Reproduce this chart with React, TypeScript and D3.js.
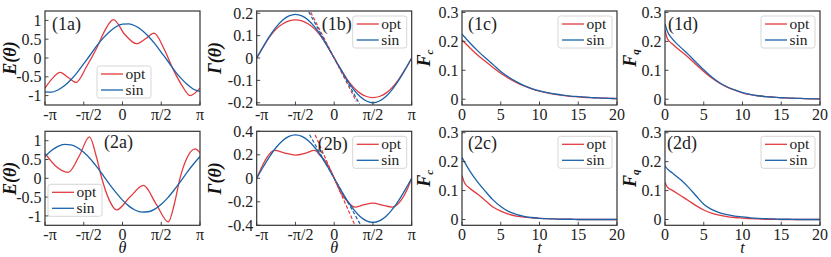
import React from 'react';
import * as d3 from 'd3';

const PI = Math.PI;
const RED = '#e23a3f';
const BLUE = '#1a63aa';
const INK = '#333333';
const FONT = "'Liberation Serif', 'DejaVu Serif', serif";

// sample positions along the axes
const thetaGrid = d3.range(25).map(i => -PI + (i * PI) / 12); // every 15 degrees
const tGrid = [0, 0.3, 1, 2, 3, 4, 5, 6, 7, 8, 9, 10, 11, 12, 13, 14, 15, 16, 17, 18, 19, 20];

// ticks
const thetaTicks = [-PI, -PI / 2, 0, PI / 2, PI];
const thetaTickLabels = ['-π', '-π/2', '0', 'π/2', 'π'];
const tTicks = [0, 5, 10, 15, 20];
const fTicks = [0, 0.1, 0.2, 0.3];
const eTicks = [-1, -0.5, 0, 0.5, 1];
const g1Ticks = [-0.2, -0.1, 0, 0.1, 0.2];
const g2Ticks = [-0.4, -0.2, 0, 0.2, 0.4];
const legendNames = ['opt', 'sin'];

// ---- row 1 ----
const e1Sin = [-0.9, -0.91, -0.85, -0.74, -0.58, -0.38, -0.15, 0.08, 0.32, 0.53, 0.7, 0.83, 0.9, 0.91, 0.85, 0.74, 0.58, 0.38, 0.15, -0.08, -0.32, -0.53, -0.7, -0.83, -0.89];
const e1OptTheta = [-PI, -2.85, -2.53, -2.2, -1.885, -1.45, -1.05, -0.7, -0.37, 0.1, 0.57, 0.95, 1.28, 1.7, 2.06, 2.4, 2.74, PI];
const e1Opt = [-0.8, -0.55, -0.38, -0.52, -0.65, -0.22, 0.26, 0.75, 1.02, 0.62, 0.38, 0.52, 0.66, 0.22, -0.31, -0.72, -1.0, -0.8];

const g1Sin = [0, 0.05, 0.098, 0.138, 0.169, 0.188, 0.195, 0.188, 0.169, 0.138, 0.098, 0.05, 0, -0.05, -0.099, -0.14, -0.172, -0.192, -0.2, -0.192, -0.172, -0.14, -0.099, -0.051, 0];
const g1Opt = [0, 0.05, 0.094, 0.129, 0.152, 0.166, 0.17, 0.166, 0.152, 0.129, 0.094, 0.05, 0, -0.05, -0.095, -0.131, -0.157, -0.172, -0.177, -0.172, -0.157, -0.131, -0.095, -0.05, 0];
const g1TangentTheta = [[-0.95, 0.9], [-1.03, 1.03]]; // opt, sin
const g1TangentValue = [[0.204, -0.194], [0.206, -0.206]];

const fc1Opt = [0.205, 0.197, 0.178, 0.153, 0.131, 0.11, 0.09, 0.073, 0.058, 0.046, 0.036, 0.028, 0.022, 0.017, 0.013, 0.01, 0.008, 0.006, 0.005, 0.004, 0.003, 0.002];
const fc1Sin = [0.225, 0.216, 0.195, 0.168, 0.143, 0.12, 0.096, 0.077, 0.061, 0.047, 0.037, 0.029, 0.023, 0.018, 0.014, 0.011, 0.009, 0.007, 0.005, 0.004, 0.003, 0.002];
const fq1Opt = [0.24, 0.21, 0.19, 0.167, 0.145, 0.12, 0.096, 0.074, 0.056, 0.042, 0.031, 0.022, 0.016, 0.012, 0.009, 0.007, 0.005, 0.004, 0.003, 0.002, 0.0015, 0.001];
const fq1Sin = [0.26, 0.235, 0.207, 0.18, 0.155, 0.128, 0.102, 0.078, 0.058, 0.043, 0.032, 0.023, 0.017, 0.012, 0.009, 0.007, 0.005, 0.004, 0.003, 0.002, 0.0015, 0.001];

// ---- row 2 ----
const e2Sin = [0.58, 0.74, 0.85, 0.9, 0.89, 0.82, 0.69, 0.52, 0.31, 0.08, -0.16, -0.38, -0.58, -0.74, -0.85, -0.9, -0.89, -0.82, -0.69, -0.52, -0.31, -0.08, 0.16, 0.38, 0.58];
const e2OptTheta = [-PI, -2.7, -2.2, -1.75, -1.34, -1.05, -0.84, -0.55, -0.24, 0.3, 0.85, 1.36, 1.86, 2.1, 2.33, 2.6, 2.94, PI];
const e2Opt = [0.66, 0.32, 0.16, 0.6, 1.1, 0.55, 0.0, -0.56, -0.84, -0.5, -0.19, -0.68, -1.16, -0.69, 0.0, 0.52, 0.78, 0.68];

const g2Sin = [0, 0.096, 0.185, 0.262, 0.32, 0.357, 0.37, 0.357, 0.32, 0.262, 0.185, 0.096, 0, -0.097, -0.188, -0.265, -0.325, -0.362, -0.375, -0.362, -0.325, -0.265, -0.188, -0.097, 0];
const g2OptTheta = [-PI, -2.95, -2.75, -2.42, -2.0, -1.57, -1.15, -0.8, -0.55, -0.3, 0, 0.3, 0.55, 0.83, 1.2, 1.57, 1.95, 2.35, 2.7, 2.95, PI];
const g2Opt = [0, 0.09, 0.17, 0.237, 0.215, 0.198, 0.215, 0.237, 0.19, 0.13, 0, -0.135, -0.2, -0.245, -0.225, -0.212, -0.228, -0.245, -0.19, -0.1, 0];
const g2TangentTheta = [[-0.77, 0.84], [-1.0, 1.08]];
const g2TangentValue = [[0.368, -0.4], [0.371, -0.4]];

const fc2Opt = [0.152, 0.128, 0.108, 0.088, 0.066, 0.043, 0.029, 0.019, 0.012, 0.008, 0.006, 0.004, 0.003, 0.002, 0.001, 0.001, 0, 0, 0, 0, 0, 0];
const fc2Sin = [0.215, 0.2, 0.168, 0.13, 0.098, 0.068, 0.045, 0.028, 0.018, 0.011, 0.007, 0.004, 0.003, 0.002, 0.001, 0.001, 0, 0, 0, 0, 0, 0];
const fq2Opt = [0.128, 0.112, 0.1, 0.083, 0.066, 0.048, 0.033, 0.022, 0.015, 0.01, 0.007, 0.005, 0.003, 0.002, 0.001, 0.001, 0, 0, 0, 0, 0, 0];
const fq2Sin = [0.185, 0.175, 0.16, 0.138, 0.112, 0.082, 0.053, 0.035, 0.024, 0.017, 0.012, 0.009, 0.006, 0.004, 0.003, 0.002, 0.001, 0.001, 0, 0, 0, 0];

// layout
const W = 155;
const H = 94;
const colX = [45, 256.7, 462, 665];
const rowY = [11, 131.3];
const yLabelDx = [-35, -41.5, -38, -35];

type Series = { x: number[]; y: number[]; color: string };
type PanelSpec = {
  id: string;
  col: number;
  row: number;
  xDomain: [number, number];
  yDomain: [number, number];
  xTicks: number[];
  xTickLabels: string[];
  yTicks: number[];
  series: Series[];
  tangents: Series[];
  tag: string;
  tagPos: [number, number];
  legendPos: [number, number];
  yLabel: string;
  xLabel: string;
};

const colors = [RED, BLUE];

const thetaPanel = (
  id: string, col: number, row: number, yDomain: [number, number], yTicks: number[],
  optX: number[], opt: number[], sin: number[], tag: string, tagPos: [number, number],
  legendPos: [number, number], yLabel: string, tanX?: number[][], tanY?: number[][]
): PanelSpec => ({
  id, col, row,
  xDomain: [-PI, PI], yDomain,
  xTicks: thetaTicks, xTickLabels: thetaTickLabels, yTicks,
  series: [
    { x: optX, y: opt, color: RED },
    { x: thetaGrid, y: sin, color: BLUE },
  ],
  tangents: tanX && tanY ? tanX.map((tx, i) => ({ x: tx, y: tanY[i], color: colors[i] })) : [],
  tag, tagPos, legendPos, yLabel,
  xLabel: row === 1 ? 'θ' : '',
});

const timePanel = (
  id: string, col: number, row: number, opt: number[], sin: number[], tag: string,
  tagPos: [number, number], yLabel: string
): PanelSpec => ({
  id, col, row,
  xDomain: [0, 20], yDomain: [-0.02, 0.305],
  xTicks: tTicks, xTickLabels: tTicks.map(String), yTicks: fTicks,
  series: [
    { x: tGrid, y: opt, color: RED },
    { x: tGrid, y: sin, color: BLUE },
  ],
  tangents: [],
  tag, tagPos, legendPos: [96, 5], yLabel,
  xLabel: row === 1 ? 't' : '',
});

const panels: PanelSpec[] = [
  thetaPanel('1a', 0, 0, [-1.25, 1.25], eTicks, e1OptTheta, e1Opt, e1Sin, '(1a)', [7, 19], [52, 55], 'E'),
  thetaPanel('1b', 1, 0, [-0.21, 0.21], g1Ticks, thetaGrid, g1Opt, g1Sin, '(1b)', [65, 19], [96, 5], 'G', g1TangentTheta, g1TangentValue),
  timePanel('1c', 2, 0, fc1Opt, fc1Sin, '(1c)', [6, 19], 'Fc'),
  timePanel('1d', 3, 0, fq1Opt, fq1Sin, '(1d)', [3, 19], 'Fq'),
  thetaPanel('2a', 0, 1, [-1.25, 1.25], eTicks, e2OptTheta, e2Opt, e2Sin, '(2a)', [59, 17], [3, 53], 'E'),
  thetaPanel('2b', 1, 1, [-0.4, 0.4], g2Ticks, g2OptTheta, g2Opt, g2Sin, '(2b)', [61, 19], [96, 5], 'G', g2TangentTheta, g2TangentValue),
  timePanel('2c', 2, 1, fc2Opt, fc2Sin, '(2c)', [6, 18], 'Fc'),
  timePanel('2d', 3, 1, fq2Opt, fq2Sin, '(2d)', [2, 18], 'Fq'),
];

function YLabel({ kind }: { kind: string }) {
  if (kind === 'E') return <>E(θ)</>;
  if (kind === 'G') return <>Γ(θ)</>;
  return (
    <>
      <tspan>F</tspan>
      <tspan fontSize={11} dy={5}>{kind === 'Fc' ? 'c' : 'q'}</tspan>
    </>
  );
}

function Panel({ p }: { p: PanelSpec }) {
  const x0 = colX[p.col];
  const y0 = rowY[p.row];
  const x = d3.scaleLinear().domain(p.xDomain).range([0, W]);
  const y = d3.scaleLinear().domain(p.yDomain).range([H, 0]);
  const curve = d3
    .line<[number, number]>()
    .x(d => x(d[0]))
    .y(d => y(d[1]))
    .curve(d3.curveMonotoneX);
  const straight = d3
    .line<[number, number]>()
    .x(d => x(d[0]))
    .y(d => y(d[1]));
  const clipId = `clip-${p.id}`;
  const [lx, ly] = p.legendPos;
  const txt = { fontFamily: FONT };

  return (
    <g transform={`translate(${x0},${y0})`}>
      <defs>
        <clipPath id={clipId}>
          <rect width={W} height={H} />
        </clipPath>
      </defs>
      <g clipPath={`url(#${clipId})`} fill="none">
        {p.series.map((s, i) => (
          <path key={i} d={curve(d3.zip(s.x, s.y) as [number, number][]) || ''} stroke={s.color} strokeWidth={1.3} />
        ))}
        {p.tangents.map((s, i) => (
          <path key={'t' + i} d={straight(d3.zip(s.x, s.y) as [number, number][]) || ''} stroke={s.color} strokeWidth={1.2} strokeDasharray="3.5,2" />
        ))}
      </g>
      <rect width={W} height={H} fill="none" stroke={INK} strokeWidth={1.2} />

      {/* x ticks */}
      {p.xTicks.map((t, i) => (
        <g key={'x' + i} transform={`translate(${x(t)},0)`}>
          <line y1={H} y2={H - 3.5} stroke={INK} strokeWidth={0.9} />
          <text
            x={p.xTickLabels[i].startsWith('-') ? 5 : 0}
            y={H + 14.5}
            textAnchor="middle"
            fontSize={16}
            fill="#222"
            style={txt}
          >
            {p.xTickLabels[i]}
          </text>
        </g>
      ))}

      {/* y ticks */}
      {p.yTicks.map((t, i) => (
        <g key={'y' + i} transform={`translate(0,${y(t)})`}>
          <line x1={0} x2={3.5} stroke={INK} strokeWidth={0.9} />
          <text x={-3.5} dy="0.35em" textAnchor="end" fontSize={16} fill="#222" style={txt}>
            {String(t)}
          </text>
        </g>
      ))}

      {/* panel tag */}
      <text x={p.tagPos[0]} y={p.tagPos[1]} fontSize={18} fill="#222" style={txt}>
        {p.tag}
      </text>

      {/* y label */}
      <text
        transform={`translate(${yLabelDx[p.col]},${H / 2}) rotate(-90)`}
        textAnchor="middle"
        dominantBaseline="central"
        fontSize={18}
        fontWeight="bold"
        fontStyle="italic"
        fill="#111"
        style={txt}
      >
        <YLabel kind={p.yLabel} />
      </text>

      {/* x label */}
      {p.xLabel && (
        <text x={W / 2} y={H + 27.5} textAnchor="middle" fontSize={16} fontStyle="italic" fill="#111" style={txt}>
          {p.xLabel}
        </text>
      )}

      {/* legend */}
      <g transform={`translate(${lx},${ly})`}>
        <rect width={54} height={32} rx={2.5} fill="#fff" fillOpacity={0.85} stroke="#cccccc" strokeWidth={0.8} />
        {legendNames.map((name, i) => (
          <g key={name} transform={`translate(0,${8 + i * 16})`}>
            <line x1={4} x2={26} stroke={colors[i]} strokeWidth={1.3} />
            <text x={28.5} dy="0.32em" fontSize={15.5} fill="#222" style={txt}>
              {name}
            </text>
          </g>
        ))}
      </g>
    </g>
  );
}

export default function App() {
  return (
    <svg
      width={831}
      height={257}
      style={{ position: 'absolute', left: 0, top: 0, background: '#fff', fontFamily: FONT }}
    >
      {panels.map(p => (
        <Panel key={p.id} p={p} />
      ))}
    </svg>
  );
}
